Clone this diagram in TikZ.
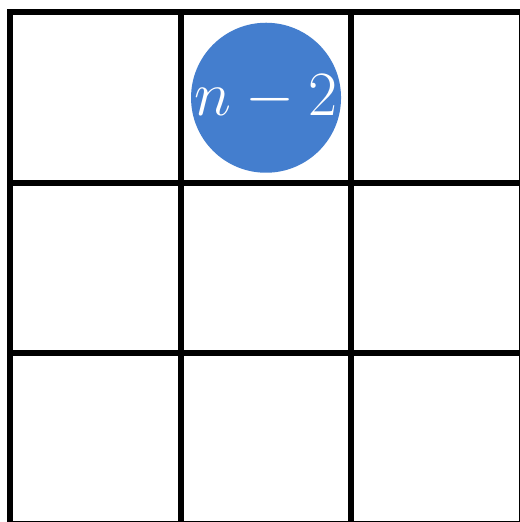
\documentclass[tikz,border=0pt]{standalone}
\definecolor{ballblue}{RGB}{68,126,206}
\tikzset{
  gridline/.style={line width=3pt, draw=black, line cap=rect},
  ball/.style={circle, fill=ballblue, minimum size=2.638cm, inner sep=0pt, text=white, font=\fontsize{24.88}{30}\selectfont}
}
\begin{document}
\begin{tikzpicture}
\clip (-0.181,0.035) rectangle (8.968,9.22);
\useasboundingbox (-0.181,0.035) rectangle (8.968,9.22);
\fill[white] (-0.181,0.035) rectangle (8.968,9.22);
\foreach \i in {0,3,6,9} {
  \draw[gridline] (\i,0) -- (\i,9);
  \draw[gridline] (0,\i) -- (9,\i);
}
\node[ball] (b) at (4.5,7.5) {\scalebox{1.27}{$n-2$}};
\end{tikzpicture}
\end{document}
